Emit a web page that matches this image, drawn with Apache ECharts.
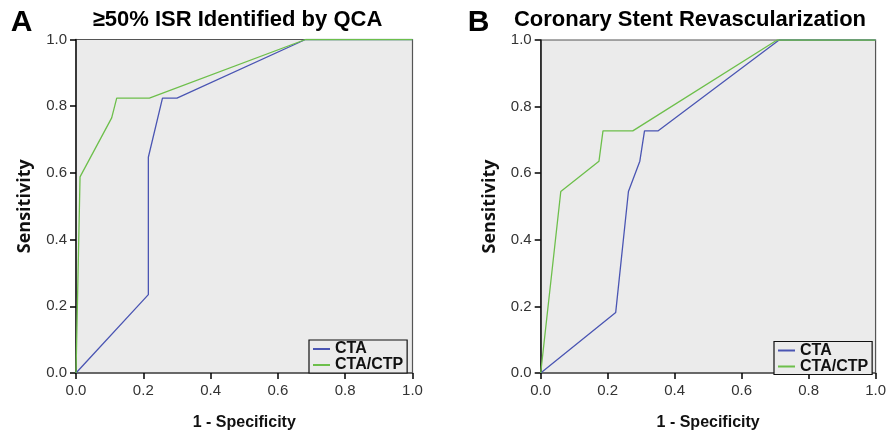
<!DOCTYPE html>
<html>
<head>
<meta charset="utf-8">
<script src="https://cdn.jsdelivr.net/npm/echarts@6/dist/echarts.min.js"></script>
<style>
html,body{margin:0;padding:0;background:#fff;}
#chart{width:889px;height:436px;}
</style>
</head>
<body>
<div id="chart"></div>
<script>
// panel A: >=50% ISR identified by QCA  [1 - specificity, sensitivity]
var ctaA = [[0,0],[0.215,0.235],[0.215,0.647],[0.257,0.824],[0.3,0.824],[0.682,1],[1,1]];
var ctpA = [[0,0],[0.012,0.588],[0.106,0.765],[0.121,0.824],[0.218,0.824],[0.682,1],[1,1]];
// panel B: coronary stent revascularization
var ctaB = [[0,0],[0.224,0.182],[0.262,0.545],[0.296,0.636],[0.31,0.727],[0.35,0.727],[0.712,1],[1,1]];
var ctpB = [[0,0],[0.06,0.545],[0.174,0.636],[0.186,0.727],[0.275,0.727],[0.706,1],[1,1]];
var seriesNames = ['CTA','CTA/CTP'];
var panelTitles = ['\u226550% ISR Identified by QCA','Coronary Stent Revascularization'];
var panelLetters = ['A','B'];

var blue = '#4a55b3';
var green = '#6dbf4b';

function xAx(idx){
    return {
        type:'value', gridIndex:idx, min:0, max:1, interval:0.2, position:'bottom',
        name:'1 - Specificity', nameLocation:'middle', nameGap:42,
        nameTextStyle:{fontFamily:'Liberation Sans',fontWeight:'bold',fontSize:16,color:'#111'},
        axisLine:{show:true,lineStyle:{color:'#555',width:1.6}},
        axisTick:{show:true,length:6,lineStyle:{color:'#000',width:1.5}},
        axisLabel:{fontFamily:'Liberation Sans',fontSize:15,color:'#333',margin:10,
            formatter:function(v){return v.toFixed(1);}},
        splitLine:{show:false}
    };
}
function yAx(idx){
    return {
        type:'value', gridIndex:idx, min:0, max:1, interval:0.2, position:'left',
        name:'Sensitivity', nameLocation:'middle', nameGap:42,
        nameTextStyle:{fontFamily:'Open Sans',fontWeight:'bold',fontSize:18,color:'#111'},
        axisLine:{show:true,lineStyle:{color:'#222',width:1.6}},
        axisTick:{show:true,length:6,lineStyle:{color:'#000',width:1.5}},
        axisLabel:{fontFamily:'Liberation Sans',fontSize:15,color:'#333',margin:9,
            formatter:function(v){return v.toFixed(1);}},
        splitLine:{show:false}
    };
}
function line(name,data,idx,color){
    return {
        name:name, type:'line', xAxisIndex:idx, yAxisIndex:idx,
        data:data, showSymbol:false, symbol:'none',
        lineStyle:{color:color,width:1.3}, itemStyle:{color:color}
    };
}
function legendAt(left,top){
    return {
        data:seriesNames, orient:'vertical', left:left, top:top,
        padding:[1,4,0,4], itemGap:0, itemWidth:17, itemHeight:2,
        icon:'rect', itemStyle:{borderWidth:0},
        borderColor:'#111', borderWidth:1.2, backgroundColor:'#ebebeb',
        textStyle:{fontFamily:'Liberation Sans',fontWeight:'bold',fontSize:16,color:'#111',lineHeight:14,padding:[0,0,0,0]},
        selectedMode:false
    };
}

var myChart = echarts.init(document.getElementById('chart'));
var option = {
    animation:false,
    graphic:[
        {type:'text',style:{text:panelLetters[0],x:21.5,y:23,textAlign:'center',textVerticalAlign:'middle',
            font:'bold 30px "Liberation Sans"',fill:'#000'}},
        {type:'text',style:{text:panelLetters[1],x:478.5,y:23,textAlign:'center',textVerticalAlign:'middle',
            font:'bold 30px "Liberation Sans"',fill:'#000'}},
        {type:'text',style:{text:panelTitles[0],x:237.5,y:19.5,textAlign:'center',textVerticalAlign:'middle',
            font:'bold 22px "Liberation Sans"',fill:'#000'}},
        {type:'text',style:{text:panelTitles[1],x:690,y:19.5,textAlign:'center',textVerticalAlign:'middle',
            font:'bold 22px "Liberation Sans"',fill:'#000'}}
    ],
    grid:[
        {left:76,top:39.5,width:336.5,height:335.5,show:true,backgroundColor:'#ebebeb',borderColor:'#555',borderWidth:1.2},
        {left:540.7,top:40,width:336.3,height:336,show:true,backgroundColor:'#ebebeb',borderColor:'#555',borderWidth:1.2}
    ],
    xAxis:[xAx(0),xAx(1)],
    yAxis:[yAx(0),yAx(1)],
    legend:[legendAt(309,340),legendAt(774,341.5)],
    series:[
        line(seriesNames[0],ctaA,0,blue),
        line(seriesNames[1],ctpA,0,green),
        line(seriesNames[0],ctaB,1,blue),
        line(seriesNames[1],ctpB,1,green)
    ]
};
myChart.setOption(option, true);
</script>
</body>
</html>
